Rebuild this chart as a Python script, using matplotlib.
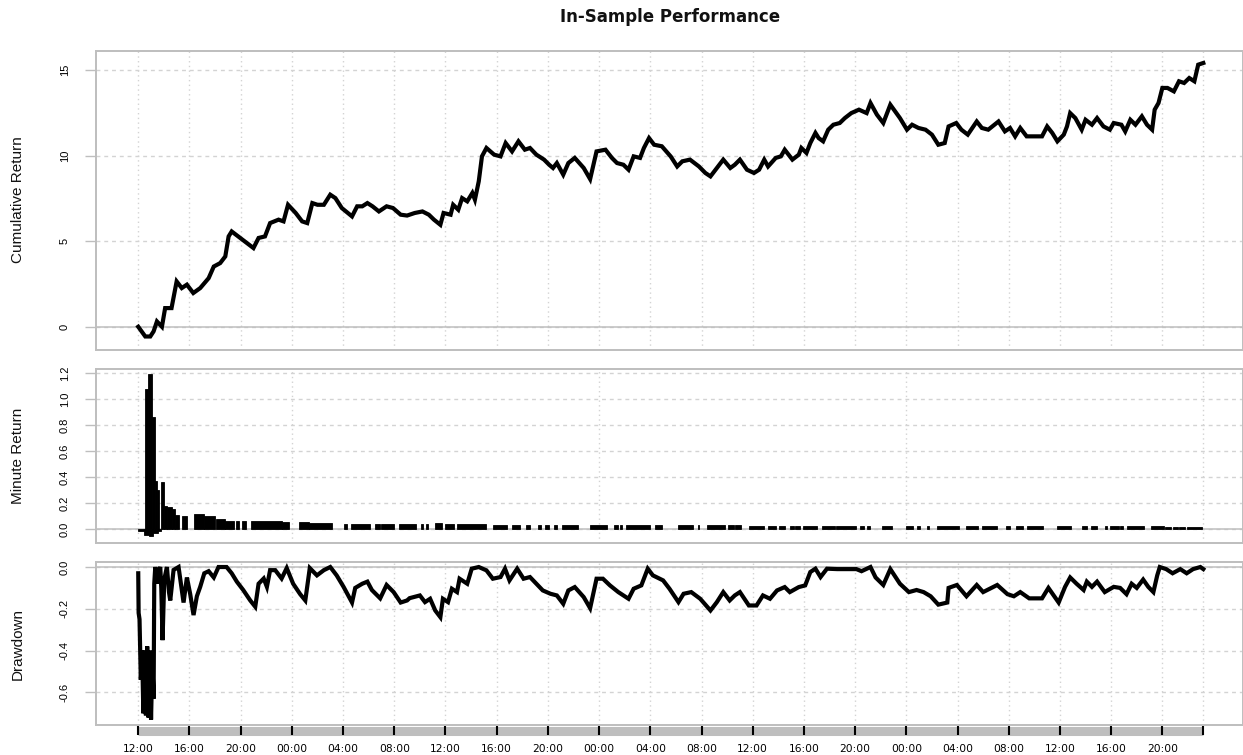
import numpy as np
import matplotlib.pyplot as plt
from matplotlib.transforms import blended_transform_factory

# cumulative return, hours since the 12:00 start
cum_hours = [0.0, 0.55, 0.94, 1.2, 1.46, 1.85, 2.1, 2.6, 3.0, 3.4, 3.8, 4.3, 4.84, 5.5, 5.9,
             6.4, 6.8, 7.06, 7.3, 7.97, 8.5, 9.0, 9.4, 9.9, 10.3, 10.96, 11.35, 11.7, 12.3,
             12.8, 13.2, 13.6, 14.0, 14.5, 15.0, 15.4, 15.9, 16.7, 17.1, 17.5, 17.9, 18.3,
             18.8, 19.4, 19.9, 20.5, 21.0, 21.6, 22.2, 22.7, 23.1, 23.6, 23.85, 24.4, 24.6,
             25.0, 25.3, 25.7, 26.1, 26.3, 26.6, 26.85, 27.2, 27.8, 28.3, 28.7, 29.2, 29.7,
             30.2, 30.6, 31.1, 31.7, 32.1, 32.4, 32.7, 33.2, 33.6, 34.1, 34.8, 35.3, 35.8,
             36.5, 37.0, 37.4, 37.9, 38.3, 38.7, 39.2, 39.5, 39.9, 40.3, 40.9, 41.6, 42.1,
             42.5, 43.1, 43.8, 44.3, 44.7, 45.2, 45.7, 46.25, 46.6, 47.0, 47.55, 48.1, 48.5,
             48.9, 49.2, 49.8, 50.2, 50.5, 51.1, 51.6, 51.8, 52.2, 52.5, 52.9, 53.15, 53.5,
             53.9, 54.3, 54.8, 55.2, 55.7, 56.3, 56.9, 57.2, 57.7, 58.2, 58.75, 59.5, 60.05,
             60.45, 60.95, 61.5, 62.0, 62.5, 63.0, 63.3, 63.9, 64.3, 64.8, 65.5, 65.9, 66.4,
             67.2, 67.7, 68.1, 68.5, 68.9, 69.4, 70.1, 70.6, 71.0, 71.4, 71.8, 72.3, 72.55,
             72.8, 73.2, 73.7, 74.0, 74.5, 74.9, 75.4, 75.9, 76.2, 76.8, 77.1, 77.5, 77.9,
             78.4, 78.8, 79.2, 79.4, 79.7, 80.0, 80.4, 80.9, 81.3, 81.7, 82.1, 82.5, 82.8, 83.2]
cum_values = [0.0, -0.57, -0.57, -0.27, 0.31, 0.0, 1.09, 1.09, 2.65, 2.26, 2.46, 1.97, 2.26,
              2.84, 3.52, 3.72, 4.11, 5.28, 5.57, 5.19, 4.89, 4.6, 5.19, 5.28, 6.06, 6.26,
              6.16, 7.13, 6.65, 6.16, 6.06, 7.23, 7.13, 7.13, 7.72, 7.52, 6.94, 6.45, 7.04,
              7.04, 7.23, 7.04, 6.74, 7.04, 6.94, 6.55, 6.5, 6.65, 6.74, 6.55, 6.26, 5.96,
              6.65, 6.55, 7.13, 6.84, 7.52, 7.33, 7.82, 7.43, 8.5, 9.96, 10.45, 10.06, 9.96,
              10.74, 10.25, 10.84, 10.35, 10.45, 10.06, 9.77, 9.47, 9.28, 9.57, 8.89, 9.57,
              9.87, 9.28, 8.63, 10.25, 10.35, 9.87, 9.57, 9.47, 9.18, 9.96, 9.87, 10.45, 11.03,
              10.64, 10.55, 9.95, 9.37, 9.67, 9.77, 9.37, 8.99, 8.79, 9.28, 9.77, 9.28, 9.47,
              9.77, 9.18, 8.99, 9.18, 9.77, 9.37, 9.87, 9.96, 10.35, 9.77, 10.06, 10.45, 10.16,
              10.74, 11.33, 11.03, 10.84, 11.52, 11.81, 11.91, 12.2, 12.49, 12.69, 12.49, 13.08,
              12.4, 11.91, 12.98, 12.2, 11.52, 11.81, 11.62, 11.52, 11.23, 10.64, 10.74, 11.71,
              11.91, 11.52, 11.23, 12.0, 11.62, 11.52, 12.0, 11.42, 11.62, 11.13, 11.62, 11.13,
              11.13, 11.13, 11.71, 11.33, 10.84, 11.23, 11.71, 12.49, 12.2, 11.52, 12.1, 11.81,
              12.2, 11.71, 11.52, 11.91, 11.81, 11.42, 12.1, 11.81, 12.3, 11.81, 11.52, 12.69,
              13.08, 13.96, 13.96, 13.76, 14.35, 14.25, 14.54, 14.35, 15.32, 15.42]

# minute return blocks: start hour, end hour, return
mr_start = [0.0, 0.45, 0.85, 1.15, 1.55, 0.55, 0.8, 1.07, 1.33, 1.45, 1.8, 2.05, 2.24, 2.6,
            2.9, 3.4, 4.35, 5.16, 6.1, 6.8, 7.6, 8.1, 8.8, 11.2, 12.55, 13.36, 16.05, 16.6,
            18.5, 19.0, 20.36, 22.05, 22.5, 23.2, 24.0, 24.9, 27.75, 29.2, 30.26, 31.25, 31.8,
            32.5, 33.1, 35.3, 37.2, 37.6, 38.1, 40.4, 42.15, 43.7, 44.45, 46.1, 46.65, 47.7,
            49.2, 50.05, 50.9, 51.3, 51.9, 53.4, 54.5, 56.4, 56.9, 58.1, 60.0, 60.8, 61.6,
            62.4, 64.7, 65.9, 67.8, 68.6, 69.4, 71.8, 73.7, 74.45, 75.5, 75.9, 76.7, 77.2,
            79.1, 80.2, 80.8, 81.3, 81.95]
mr_end = [0.45, 0.85, 1.15, 1.55, 1.8, 0.8, 1.07, 1.33, 1.45, 1.66, 2.05, 2.24, 2.6, 2.9,
          3.15, 3.8, 5.16, 5.97, 6.8, 7.45, 7.85, 8.4, 11.2, 11.75, 13.36, 15.1, 16.33, 18.07,
          18.9, 19.95, 21.7, 22.25, 22.65, 23.7, 24.7, 27.2, 28.8, 29.8, 30.6, 31.5, 32.06,
          32.7, 34.35, 36.6, 37.45, 37.8, 40.0, 40.9, 43.36, 43.8, 45.86, 46.55, 47.1, 48.9,
          49.8, 50.5, 51.2, 51.7, 53.0, 54.4, 56.1, 56.7, 57.2, 58.9, 60.5, 61.1, 61.8,
          64.1, 65.6, 67.1, 68.1, 69.1, 70.7, 72.9, 74.1, 74.9, 75.7, 76.6, 76.9, 78.55,
          80.1, 80.7, 81.2, 81.8, 83.1]
mr_values = [-0.015, -0.045, -0.057, -0.03, -0.012, 1.077, 1.19, 0.86, 0.37, 0.30, 0.36,
             0.18, 0.17, 0.155, 0.11, 0.10, 0.115, 0.097, 0.077, 0.064, 0.062, 0.062, 0.062,
             0.052, 0.055, 0.046, 0.04, 0.04, 0.04, 0.04, 0.04, 0.038, 0.038, 0.045, 0.04,
             0.037, 0.03, 0.03, 0.03, 0.03, 0.03, 0.03, 0.03, 0.03, 0.03, 0.03, 0.03, 0.028,
             0.028, 0.028, 0.028, 0.027, 0.027, 0.026, 0.026, 0.026, 0.026, 0.026, 0.025,
             0.025, 0.025, 0.02, 0.02, 0.022, 0.022, 0.022, 0.022, 0.022, 0.022, 0.022, 0.022,
             0.022, 0.022, 0.021, 0.021, 0.021, 0.021, 0.021, 0.021, 0.021, 0.02, 0.015,
             0.015, 0.015, 0.015]

# drawdown
dd_hours = [0.0, 0.03, 0.1, 0.2, 0.3, 0.4, 0.5, 0.6, 0.7, 0.8, 0.9, 1.0, 1.1, 1.2,
            1.25, 1.33, 1.5, 1.59, 1.72, 1.8, 1.9, 2.03, 2.24, 2.4,
            2.5, 2.76, 3.15, 3.54, 3.8, 4.06, 4.32, 4.58, 4.84, 5.16, 5.5, 5.9, 6.27, 6.9,
            7.3, 7.7, 8.2, 8.75, 9.14, 9.4, 9.8, 10.05, 10.3, 10.7, 11.2, 11.6, 12.1, 12.65,
            13.05, 13.4, 13.96, 14.5, 15.0, 15.5, 16.04, 16.7, 16.95, 17.5, 17.9, 18.25, 18.9,
            19.4, 19.95, 20.5, 21.0, 21.2, 22.0, 22.4, 22.8, 23.2, 23.6, 23.8, 24.2, 24.5,
            24.9, 25.1, 25.7, 26.05, 26.6, 27.2, 27.7, 28.3, 28.65, 29.0, 29.6, 30.1, 30.6,
            31.1, 31.6, 32.2, 32.7, 33.2, 33.6, 34.1, 34.8, 35.3, 35.8, 36.3, 36.85, 37.5,
            38.3, 38.7, 39.3, 39.8, 40.2, 41.0, 41.5, 42.2, 42.6, 43.2, 43.9, 44.7, 45.2,
            45.7, 46.2, 46.6, 47.0, 47.7, 48.3, 48.8, 49.35, 49.9, 50.5, 50.9, 51.6, 52.1,
            52.5, 52.9, 53.3, 53.8, 54.6, 55.4, 56.1, 56.5, 57.2, 57.6, 58.2, 58.75, 59.5,
            60.2, 60.8, 61.35, 61.9, 62.5, 63.2, 63.3, 63.95, 64.7, 65.5, 66.0, 67.1, 67.9,
            68.4, 68.9, 69.6, 70.6, 71.1, 71.9, 72.4, 72.8, 73.3, 73.85, 74.1, 74.5, 74.9,
            75.5, 76.2, 76.7, 77.2, 77.6, 78.0, 78.5, 78.9, 79.3, 79.6, 79.8, 80.3, 80.8,
            81.4, 81.9, 82.4, 82.97, 83.2]
dd_values = [-0.03, -0.22, -0.25, -0.54, -0.40, -0.70, -0.40, -0.71, -0.38, -0.72, -0.40,
             -0.73, -0.45, -0.63, -0.08, 0.0, -0.08, -0.02, 0.0, -0.1, -0.35,
             -0.06, 0.0, -0.12, -0.16, -0.014, 0.0, -0.17, -0.05, -0.13, -0.23, -0.14, -0.095,
             -0.03, -0.02, -0.05, 0.0, 0.0, -0.03, -0.07, -0.11, -0.16, -0.19, -0.08, -0.055,
             -0.095, -0.015, -0.015, -0.055, -0.005, -0.08, -0.13, -0.16, -0.005, -0.04,
             -0.015, 0.0, -0.04, -0.095, -0.17, -0.10, -0.08, -0.07, -0.11, -0.15, -0.086,
             -0.12, -0.17, -0.16, -0.149, -0.136, -0.168, -0.152, -0.208, -0.24, -0.152,
             -0.168, -0.104, -0.12, -0.056, -0.08, -0.008, 0.0, -0.016, -0.056, -0.048,
             -0.008, -0.064, -0.008, -0.056, -0.048, -0.08, -0.112, -0.128, -0.136, -0.176,
             -0.112, -0.096, -0.144, -0.197, -0.056, -0.056, -0.088, -0.12, -0.152, -0.104,
             -0.088, -0.008, -0.04, -0.064, -0.104, -0.168, -0.128, -0.12, -0.152, -0.208,
             -0.168, -0.12, -0.16, -0.136, -0.12, -0.184, -0.184, -0.136, -0.152, -0.112,
             -0.096, -0.12, -0.096, -0.088, -0.024, -0.008, -0.048, -0.008, -0.01, -0.01,
             -0.01, -0.02, 0.0, -0.05, -0.086, -0.01, -0.08, -0.12, -0.11, -0.12, -0.14,
             -0.18, -0.17, -0.10, -0.086, -0.14, -0.086, -0.12, -0.086, -0.13, -0.14, -0.12,
             -0.15, -0.15, -0.10, -0.17, -0.095, -0.05, -0.08, -0.11, -0.07, -0.095, -0.07,
             -0.12, -0.095, -0.10, -0.13, -0.08, -0.10, -0.06, -0.095, -0.12, -0.04, 0.0,
             -0.01, -0.03, -0.01, -0.03, -0.01, 0.0, -0.01]

tick_labels = ["12:00", "16:00", "20:00", "00:00", "04:00", "08:00",
               "12:00", "16:00", "20:00", "00:00", "04:00", "08:00",
               "12:00", "16:00", "20:00", "00:00", "04:00", "08:00",
               "12:00", "16:00", "20:00"]
tick_hours = np.arange(len(tick_labels)) * 4
midnight_hours = [0, 12, 36, 60]

assert len(cum_hours) == len(cum_values), (len(cum_hours), len(cum_values))
assert len(mr_start) == len(mr_end) == len(mr_values), (len(mr_start), len(mr_end), len(mr_values))
assert len(dd_hours) == len(dd_values), (len(dd_hours), len(dd_values))

W, H = 1243, 755
GRAY = "#bebebe"
LIGHT = "#d3d3d3"
end_h = cum_hours[-1]

fig = plt.figure(figsize=(W / 100, H / 100), dpi=100)


def panel(top, bottom):
    return fig.add_axes([96 / W, 1 - bottom / H, 1 - 96 / W, (bottom - top) / H])


def style(ax, ylim, yticks, ylabels, vgrid, label, label_y):
    ax.set_xlim(-3.3, 86.3)
    ax.set_ylim(ylim)
    ax.set_yticks(yticks)
    ax.set_yticklabels(ylabels, rotation=90, va="center", ha="right",
                       family="Liberation Sans", fontsize=8)
    ax.tick_params(axis="y", length=7.9, width=1, color=GRAY, pad=11)
    ax.tick_params(axis="x", length=0, labelbottom=False)
    for s in ax.spines.values():
        s.set_color(GRAY)
        s.set_linewidth(1.4)
    for y in yticks:
        ax.axhline(y, color=LIGHT, lw=1, ls=(0, (2.8, 2.8)), zorder=0)
    for x in vgrid:
        ax.axvline(x, color=LIGHT, lw=1, ls=(0, (1, 2.4)), zorder=0)
    ax.axhline(0, color=GRAY, lw=1.1, zorder=1)
    fig.text(18 / W, 1 - label_y / H, label, rotation=90, ha="center", va="center",
             family="Liberation Sans", fontsize=11, color="#111111")


time_grid = list(tick_hours) + [end_h]

ax1 = panel(51, 350)
style(ax1, (-1.36, 16.12), [0, 5, 10, 15], ["0", "5", "10", "15"], time_grid,
      "Cumulative Return", 200)
ax1.plot(cum_hours, cum_values, color="black", lw=3.0, solid_joinstyle="miter", zorder=3)

ax2 = panel(369, 543)
style(ax2, (-0.108, 1.231), [0.0, 0.2, 0.4, 0.6, 0.8, 1.0, 1.2],
      ["0.0", "0.2", "0.4", "0.6", "0.8", "1.0", "1.2"], midnight_hours + [end_h],
      "Minute Return", 456)
ax2.bar(mr_start, mr_values, width=np.subtract(mr_end, mr_start), align="edge",
        color="black", edgecolor="black", linewidth=0.6, zorder=3)

ax3 = panel(562, 725)
style(ax3, (-0.756, 0.024), [-0.6, -0.4, -0.2, 0.0], ["-0.6", "-0.4", "-0.2", "0.0"],
      time_grid, "Drawdown", 643.5)
ax3.plot(dd_hours, dd_values, color="black", lw=3.0, solid_joinstyle="miter", zorder=3)

# time axis: gray band with black ticks under the last panel
trans = blended_transform_factory(ax3.transData, ax3.transAxes)
ax3.plot([0, end_h], [-5.5 / 163, -5.5 / 163], transform=trans, color=GRAY, lw=6.5,
         solid_capstyle="butt", clip_on=False)
ax3.vlines(time_grid, -1 / 163, -10 / 163, transform=trans, colors="black", lw=1.5,
           clip_on=False, zorder=5)
ax3.set_xticks(tick_hours)
ax3.set_xticklabels(tick_labels, fontsize=7.7, family="DejaVu Sans")
ax3.tick_params(axis="x", length=0, pad=13.5, labelbottom=True)

fig.text(670 / W, 1 - 17 / H, "In-Sample Performance", ha="center", va="center",
         fontweight="bold", fontsize=12, family="DejaVu Sans", color="#111111")

fig.savefig("out.png", dpi=100)
